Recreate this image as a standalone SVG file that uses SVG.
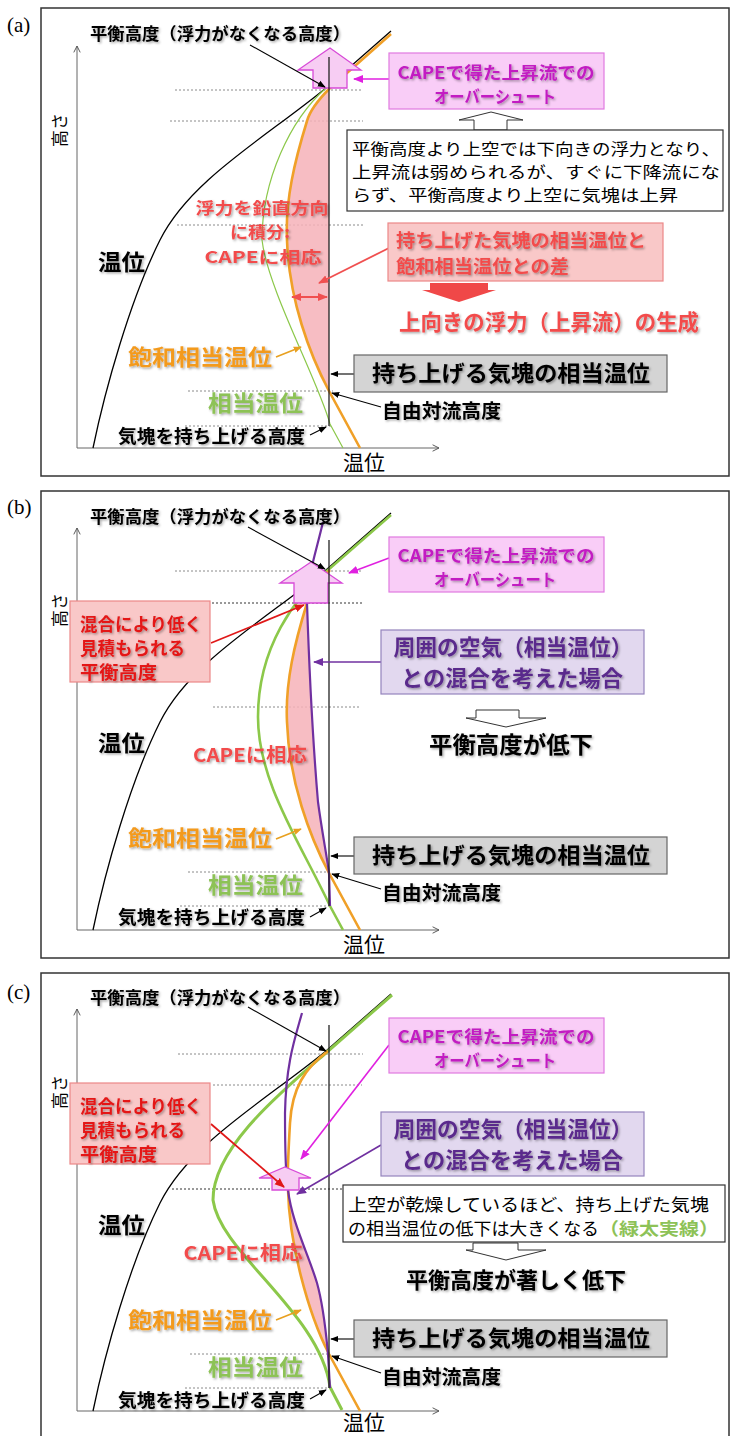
<svg xmlns="http://www.w3.org/2000/svg" width="732" height="1436" viewBox="0 0 732 1436">
<defs>
<style>
text{font-family:"Noto Sans CJK JP","Noto Sans",sans-serif;fill:#000}
.serif{font-family:"Liberation Serif",serif}
.b{font-weight:bold}
.frame{fill:#fff;stroke:#333;stroke-width:1.5}
.axis{fill:none;stroke:#666;stroke-width:1}
.dot{fill:none;stroke:#8a8a8a;stroke-width:1;stroke-dasharray:2 2}
.dotk{fill:none;stroke:#333;stroke-width:1;stroke-dasharray:2 2}
.parcel{fill:none;stroke:#222;stroke-width:1.3}
.theta{fill:none;stroke:#000;stroke-width:1.3}
.sat{fill:none;stroke:#f0a028;stroke-width:2.6}
.eq{fill:none;stroke:#8cc84a}
.mix{fill:none;stroke:#7030a0;stroke-width:2.2}
.cape{fill:#f6b2b8;opacity:.85}
.uparrow{fill:#f7cdf3;stroke:#d84ad8;stroke-width:1.3}
.openarr{fill:#fff;stroke:#333;stroke-width:1}
.lk{fill:none;stroke:#000;stroke-width:1.1;marker-end:url(#ak)}
.lm{fill:none;stroke:#e020e0;stroke-width:1.6;marker-end:url(#am)}
.lr{fill:none;stroke:#f05050;stroke-width:1.8;marker-end:url(#ar)}
.lr2{fill:none;stroke:#e01818;stroke-width:1.8;marker-end:url(#ar2)}
.lp{fill:none;stroke:#7030a0;stroke-width:1.6;marker-end:url(#ap)}
.lo{fill:none;stroke:#e8a020;stroke-width:1.6;marker-end:url(#ao)}
.boxmg{fill:#f9cdf7;stroke:#e07ae0;stroke-width:1.2}
.boxpu{fill:#e2d8ef;stroke:#9484bc;stroke-width:1.2}
.boxrd{fill:#f9c8c8;stroke:#ec8888;stroke-width:1.2}
.boxgy{fill:#d4d4d4;stroke:#666;stroke-width:1.2}
.boxw{fill:#fff;stroke:#333;stroke-width:1.2}
.t-or{fill:#f39a1e}
.t-gr{fill:#8dc257}
.t-rd{fill:#f24c4c}
.t-red{fill:#e41818}
.t-mg{fill:#c21bc2}
.t-pu{fill:#5a2a8c}
.sh{filter:url(#sh)}
</style>
<filter id="sh" x="-10%" y="-30%" width="125%" height="170%">
<feDropShadow dx="1.4" dy="1.4" stdDeviation="0.9" flood-color="#000" flood-opacity="0.35"/>
</filter>
<marker id="ak" viewBox="0 0 10 10" refX="9" refY="5" markerWidth="8" markerHeight="8" markerUnits="userSpaceOnUse" orient="auto-start-reverse"><path d="M0,1 L10,5 L0,9 Z" fill="#000"/></marker>
<marker id="am" viewBox="0 0 10 10" refX="9" refY="5" markerWidth="10" markerHeight="10" markerUnits="userSpaceOnUse" orient="auto"><path d="M0,1 L10,5 L0,9 Z" fill="#e020e0"/></marker>
<marker id="ar" viewBox="0 0 10 10" refX="9" refY="5" markerWidth="10" markerHeight="10" markerUnits="userSpaceOnUse" orient="auto-start-reverse"><path d="M0,1 L10,5 L0,9 Z" fill="#f05050"/></marker>
<marker id="ar2" viewBox="0 0 10 10" refX="9" refY="5" markerWidth="10" markerHeight="10" markerUnits="userSpaceOnUse" orient="auto"><path d="M0,1 L10,5 L0,9 Z" fill="#e01818"/></marker>
<marker id="ap" viewBox="0 0 10 10" refX="9" refY="5" markerWidth="10" markerHeight="10" markerUnits="userSpaceOnUse" orient="auto"><path d="M0,1 L10,5 L0,9 Z" fill="#7030a0"/></marker>
<marker id="ao" viewBox="0 0 10 10" refX="9" refY="5" markerWidth="8" markerHeight="8" markerUnits="userSpaceOnUse" orient="auto"><path d="M0,1 L10,5 L0,9 Z" fill="#e8a020"/></marker>
<marker id="ax" viewBox="0 0 10 10" refX="9" refY="5" markerWidth="8" markerHeight="8" markerUnits="userSpaceOnUse" orient="auto"><path d="M1,1 L9,5 L1,9" fill="none" stroke="#555" stroke-width="1.2"/></marker>
</defs>

<!-- ===================== PANEL (a) ===================== -->
<g id="panel-a">
<rect class="frame" x="41" y="8" width="688" height="468"/>
<text id="a-tag" class="serif" x="7" y="32" font-size="21">(a)</text>
<path class="dot" d="M175,90 H363 M170,121 H363 M177,225 H363 M188,391 H333 M185,426 H333"/>
<path class="cape" d="M330,88 C318,100 310,110 307,121 C295,160 285,200 287,240 C289,300 310,355 329,391 L329,88 Z"/>
<g id="a-axes">
<path class="axis" d="M77,448 V46" marker-end="url(#ax)"/>
<path class="axis" d="M77,448 H439" marker-end="url(#ax)"/>
<text transform="translate(66,130) rotate(-90)" text-anchor="middle" font-size="17">高さ</text>
<text x="343" y="470" font-size="21" textLength="42" lengthAdjust="spacingAndGlyphs">温位</text>
</g>
<g id="a-curves">
<path class="theta" d="M93,448 C105,390 130,300 160,240 S265,138 326,88 L391,31"/>
<path class="eq" stroke-width="1.2" d="M326,88 C290,120 262,180 262,240 C268,290 318,380 330,424 L343,448"/>
<path class="sat" d="M391,34 L330,88 C318,100 310,110 307,121 C295,160 285,200 287,240 C289,300 310,355 329,391 L360,448"/>
</g>
<path id="a-overshoot" class="uparrow" d="M313,88 V70 H298 L330,48 L361,70 H347 V88 Z"/>
<path id="a-parcel" class="parcel" d="M329,57 V426"/>
<g id="a-connectors">
<path class="lk" d="M250,45 L325,87"/>
<path class="lm" d="M389,79 H354"/>
<path class="lr" d="M389,248 L319,283"/>
<path d="M292,297 H327" fill="none" stroke="#f05050" stroke-width="2" marker-start="url(#ar)" marker-end="url(#ar)"/>
<path class="lo" d="M276,357 L301,347"/>
<path class="lk" d="M310,435 L326,427"/>
<path class="lk" d="M381,407 L332,393"/>
<path class="lk" d="M354,374 H331"/>
<path class="openarr" d="M474,130 V120 H459 L491,112 L523,120 H507 V130 Z"/>
<path fill="#f04848" d="M430,283 H488 V290 H496 L459,302 L422,290 H430 Z"/>
</g>
<g id="a-title"><text class="b sh" x="90" y="40" font-size="17" textLength="260" lengthAdjust="spacingAndGlyphs">平衡高度（浮力がなくなる高度）</text></g>
<g id="a-cape-box"><rect class="boxmg" x="389" y="53" width="215" height="56"/>
<text class="b t-mg sh" font-size="17" text-anchor="middle"><tspan x="496" y="79" textLength="197" lengthAdjust="spacingAndGlyphs">CAPEで得た上昇流での</tspan><tspan x="495" y="103" textLength="122" lengthAdjust="spacingAndGlyphs">オーバーシュート</tspan></text></g>
<g id="a-note"><rect class="boxw" x="347" y="130" width="376" height="81"/>
<text font-size="15.6"><tspan x="352" y="155" textLength="368" lengthAdjust="spacingAndGlyphs">平衡高度より上空では下向きの浮力となり、</tspan><tspan x="352" y="178" textLength="368" lengthAdjust="spacingAndGlyphs">上昇流は弱められるが、すぐに下降流にな</tspan><tspan x="352" y="201" textLength="326" lengthAdjust="spacingAndGlyphs">らず、平衡高度より上空に気塊は上昇</tspan></text></g>
<g id="a-integral"><text class="b t-rd sh" font-size="16.4" text-anchor="middle"><tspan x="262" y="214" textLength="133" lengthAdjust="spacingAndGlyphs">浮力を鉛直方向</tspan><tspan x="260" y="238" textLength="60" lengthAdjust="spacingAndGlyphs">に積分:</tspan><tspan x="263" y="263" textLength="117" lengthAdjust="spacingAndGlyphs">CAPEに相応</tspan></text></g>
<g id="a-diff-box"><rect class="boxrd" x="388" y="223" width="275" height="58"/>
<text class="b t-rd sh" font-size="18"><tspan x="396" y="247" textLength="250" lengthAdjust="spacingAndGlyphs">持ち上げた気塊の相当温位と</tspan><tspan x="396" y="273" textLength="173" lengthAdjust="spacingAndGlyphs">飽和相当温位との差</tspan></text></g>
<g id="a-buoyancy"><text class="b t-rd sh" x="549" y="330" font-size="22" text-anchor="middle" textLength="300" lengthAdjust="spacingAndGlyphs">上向きの浮力（上昇流）の生成</text></g>
<g id="a-theta-label"><text class="b sh" x="98" y="270" font-size="22" textLength="47" lengthAdjust="spacingAndGlyphs">温位</text></g>
<g id="a-sat-label"><text class="b t-or sh" x="128" y="365" font-size="22" textLength="144" lengthAdjust="spacingAndGlyphs">飽和相当温位</text></g>
<g id="a-eq-label"><text class="b t-gr sh" x="208" y="411" font-size="22" textLength="95" lengthAdjust="spacingAndGlyphs">相当温位</text></g>
<g id="a-lift-label"><text class="b sh" x="118" y="443" font-size="18" textLength="187" lengthAdjust="spacingAndGlyphs">気塊を持ち上げる高度</text></g>
<g id="a-parcel-box"><rect class="boxgy" x="354" y="355" width="313" height="37"/>
<text class="b sh" x="511" y="381" font-size="22" text-anchor="middle" textLength="278" lengthAdjust="spacingAndGlyphs">持ち上げる気塊の相当温位</text></g>
<g id="a-lfc-label"><text class="b sh" x="382" y="418" font-size="19" textLength="119" lengthAdjust="spacingAndGlyphs">自由対流高度</text></g>
</g>

<!-- ===================== PANEL (b) ===================== -->
<g id="panel-b" transform="translate(0,482)">
<rect class="frame" x="41" y="9" width="688" height="467"/>
<text id="b-tag" class="serif" x="7" y="32" font-size="21">(b)</text>
<path class="dot" d="M175,89 H363 M213,225 H361 M188,390 H330 M180,424 H330"/>
<path class="dotk" d="M212,121 H363"/>
<path class="cape" d="M307,121 C295,160 285,200 287,240 C289,300 310,355 329,391 C327,375 322,350 318,320 C312,250 309,180 307,121 Z"/>
<g id="b-axes">
<path class="axis" d="M77,448 V46" marker-end="url(#ax)"/>
<path class="axis" d="M77,448 H439" marker-end="url(#ax)"/>
<text transform="translate(66,128) rotate(-90)" text-anchor="middle" font-size="17">高さ</text>
<text x="343" y="470" font-size="21" textLength="42" lengthAdjust="spacingAndGlyphs">温位</text>
</g>
<g id="b-curves">
<path class="theta" d="M93,448 C105,390 130,300 160,240 S265,138 326,88 L391,31"/>
<path class="eq" stroke-width="2.6" d="M391,33 L328,88 C295,115 258,165 258,235 C258,300 300,360 330,424 L343,448"/>
<path class="sat" d="M330,88 C318,100 310,110 307,121 C295,160 285,200 287,240 C289,300 310,355 329,391 L360,448"/>
<path class="mix" d="M323,40 C316,70 306,100 307,121 C309,180 312,250 318,320 C322,350 327,375 329,391 L330,424"/>
</g>
<path id="b-overshoot" class="uparrow" d="M294,121 V101 H280 L311,80 L342,101 H328 V121 Z"/>
<path id="b-parcel" class="parcel" d="M329,58 V424"/>
<g id="b-connectors">
<path class="lk" d="M248,45 L325,87"/>
<path class="lm" d="M389,76 L349,91"/>
<path class="lr2" d="M211,161 L304,123"/>
<path class="lp" d="M381,180 H314"/>
<path class="lo" d="M276,357 L301,347"/>
<path class="lk" d="M310,435 L326,426"/>
<path class="lk" d="M381,407 L332,392"/>
<path class="lk" d="M354,374 H331"/>
<path class="openarr" d="M476,228 H519 V236 H546 L506,245 L466,236 H476 Z"/>
</g>
<g id="b-title"><text class="b sh" x="90" y="41" font-size="17" textLength="260" lengthAdjust="spacingAndGlyphs">平衡高度（浮力がなくなる高度）</text></g>
<g id="b-cape-box"><rect class="boxmg" x="389" y="55" width="215" height="55"/>
<text class="b t-mg sh" font-size="17" text-anchor="middle"><tspan x="496" y="80" textLength="197" lengthAdjust="spacingAndGlyphs">CAPEで得た上昇流での</tspan><tspan x="495" y="104" textLength="122" lengthAdjust="spacingAndGlyphs">オーバーシュート</tspan></text></g>
<g id="b-mix-box"><rect class="boxpu" x="381" y="148" width="263" height="64"/>
<text class="b t-pu sh" font-size="22" text-anchor="middle"><tspan x="513" y="173" textLength="239" lengthAdjust="spacingAndGlyphs">周囲の空気（相当温位）</tspan><tspan x="512" y="204" textLength="222" lengthAdjust="spacingAndGlyphs">との混合を考えた場合</tspan></text></g>
<g id="b-low-box"><rect class="boxrd" x="70" y="119" width="140" height="81"/>
<text class="b t-red sh" font-size="18"><tspan x="80" y="149" textLength="122" lengthAdjust="spacingAndGlyphs">混合により低く</tspan><tspan x="80" y="173" textLength="105" lengthAdjust="spacingAndGlyphs">見積もられる</tspan><tspan x="80" y="197" textLength="77" lengthAdjust="spacingAndGlyphs">平衡高度</tspan></text></g>
<g id="b-result"><text class="b sh" x="511" y="271" font-size="23" text-anchor="middle" textLength="164" lengthAdjust="spacingAndGlyphs">平衡高度が低下</text></g>
<g id="b-cape-label"><text class="b t-rd sh" x="250" y="280" font-size="19" text-anchor="middle" textLength="114" lengthAdjust="spacingAndGlyphs">CAPEに相応</text></g>
<g id="b-theta-label"><text class="b sh" x="98" y="269" font-size="22" textLength="47" lengthAdjust="spacingAndGlyphs">温位</text></g>
<g id="b-sat-label"><text class="b t-or sh" x="128" y="364" font-size="22" textLength="144" lengthAdjust="spacingAndGlyphs">飽和相当温位</text></g>
<g id="b-eq-label"><text class="b t-gr sh" x="208" y="411" font-size="22" textLength="95" lengthAdjust="spacingAndGlyphs">相当温位</text></g>
<g id="b-lift-label"><text class="b sh" x="118" y="442" font-size="18" textLength="187" lengthAdjust="spacingAndGlyphs">気塊を持ち上げる高度</text></g>
<g id="b-parcel-box"><rect class="boxgy" x="354" y="355" width="313" height="37"/>
<text class="b sh" x="511" y="381" font-size="22" text-anchor="middle" textLength="278" lengthAdjust="spacingAndGlyphs">持ち上げる気塊の相当温位</text></g>
<g id="b-lfc-label"><text class="b sh" x="382" y="418" font-size="19" textLength="119" lengthAdjust="spacingAndGlyphs">自由対流高度</text></g>
</g>

<!-- ===================== PANEL (c) ===================== -->
<g id="panel-c" transform="translate(0,963)">
<rect class="frame" x="41" y="10" width="688" height="470"/>
<text id="c-tag" class="serif" x="7" y="36" font-size="21">(c)</text>
<path class="dot" d="M178,91 H363 M213,122 H362 M190,391 H330 M185,425 H330"/>
<path class="dotk" d="M172,226 H343"/>
<path class="cape" d="M288,226 C289,280 308,350 329,391 L328,391 C326,370 324,345 317,320 C308,290 292,260 288,227 Z"/>
<g id="c-axes">
<path class="axis" d="M77,448 V46" marker-end="url(#ax)"/>
<path class="axis" d="M77,448 H439" marker-end="url(#ax)"/>
<text transform="translate(66,129) rotate(-90)" text-anchor="middle" font-size="17">高さ</text>
<text x="343" y="467" font-size="21" textLength="42" lengthAdjust="spacingAndGlyphs">温位</text>
</g>
<g id="c-curves">
<path class="theta" d="M93,448 C105,390 130,300 160,240 S265,138 326,88 L391,31"/>
<path class="eq" stroke-width="3" d="M392,32 L327,89 C280,130 213,185 213,237 C220,290 320,350 330,424 L342,447"/>
<path class="sat" d="M328,88 C305,105 292,125 290,160 C288,195 287,215 288,226 C289,280 308,350 329,391 L360,448"/>
<path class="mix" d="M302,50 C295,75 286,100 285,150 C285,190 286,215 288,227 C292,260 308,290 317,320 C324,345 326,370 328,391 L330,425"/>
</g>
<path id="c-overshoot" class="uparrow" d="M272,227 V215 H259 L285,204 L311,215 H299 V227 Z"/>
<path id="c-parcel" class="parcel" d="M329,62 V425"/>
<g id="c-connectors">
<path class="lk" d="M248,44 L326,88"/>
<path class="lm" d="M389,82 L301,196"/>
<path class="lr2" d="M211,161 L284,224"/>
<path class="lp" d="M381,182 L297,231"/>
<path class="lo" d="M276,357 L301,347"/>
<path class="lk" d="M310,436 L326,427"/>
<path class="lk" d="M381,410 L332,393"/>
<path class="lk" d="M354,376 H331"/>
<path class="openarr" d="M473,280 H518 V287 H546 L506,297 L466,287 H473 Z"/>
</g>
<g id="c-title"><text class="b sh" x="90" y="41" font-size="17" textLength="260" lengthAdjust="spacingAndGlyphs">平衡高度（浮力がなくなる高度）</text></g>
<g id="c-cape-box"><rect class="boxmg" x="389" y="55" width="215" height="55"/>
<text class="b t-mg sh" font-size="17" text-anchor="middle"><tspan x="496" y="80" textLength="197" lengthAdjust="spacingAndGlyphs">CAPEで得た上昇流での</tspan><tspan x="495" y="104" textLength="122" lengthAdjust="spacingAndGlyphs">オーバーシュート</tspan></text></g>
<g id="c-mix-box"><rect class="boxpu" x="381" y="149" width="263" height="64"/>
<text class="b t-pu sh" font-size="22" text-anchor="middle"><tspan x="513" y="174" textLength="239" lengthAdjust="spacingAndGlyphs">周囲の空気（相当温位）</tspan><tspan x="512" y="205" textLength="222" lengthAdjust="spacingAndGlyphs">との混合を考えた場合</tspan></text></g>
<g id="c-low-box"><rect class="boxrd" x="70" y="120" width="140" height="81"/>
<text class="b t-red sh" font-size="18"><tspan x="80" y="150" textLength="122" lengthAdjust="spacingAndGlyphs">混合により低く</tspan><tspan x="80" y="174" textLength="105" lengthAdjust="spacingAndGlyphs">見積もられる</tspan><tspan x="80" y="198" textLength="77" lengthAdjust="spacingAndGlyphs">平衡高度</tspan></text></g>
<g id="c-note"><rect class="boxw" x="343" y="222" width="382" height="57"/>
<text font-size="17.5"><tspan x="348" y="248" textLength="361" lengthAdjust="spacingAndGlyphs">上空が乾燥しているほど、持ち上げた気塊</tspan><tspan x="348" y="272" textLength="251" lengthAdjust="spacingAndGlyphs">の相当温位の低下は大きくなる</tspan><tspan class="b t-gr" x="599" y="272" textLength="120" lengthAdjust="spacingAndGlyphs">（緑太実線）</tspan></text></g>
<g id="c-result"><text class="b sh" x="516" y="325" font-size="22" text-anchor="middle" textLength="220" lengthAdjust="spacingAndGlyphs">平衡高度が著しく低下</text></g>
<g id="c-cape-label"><text class="b t-rd sh" x="243" y="297" font-size="19" text-anchor="middle" textLength="119" lengthAdjust="spacingAndGlyphs">CAPEに相応</text></g>
<g id="c-theta-label"><text class="b sh" x="98" y="270" font-size="22" textLength="47" lengthAdjust="spacingAndGlyphs">温位</text></g>
<g id="c-sat-label"><text class="b t-or sh" x="128" y="365" font-size="22" textLength="144" lengthAdjust="spacingAndGlyphs">飽和相当温位</text></g>
<g id="c-eq-label"><text class="b t-gr sh" x="208" y="412" font-size="22" textLength="95" lengthAdjust="spacingAndGlyphs">相当温位</text></g>
<g id="c-lift-label"><text class="b sh" x="118" y="444" font-size="18" textLength="187" lengthAdjust="spacingAndGlyphs">気塊を持ち上げる高度</text></g>
<g id="c-parcel-box"><rect class="boxgy" x="354" y="357" width="313" height="37"/>
<text class="b sh" x="511" y="383" font-size="22" text-anchor="middle" textLength="278" lengthAdjust="spacingAndGlyphs">持ち上げる気塊の相当温位</text></g>
<g id="c-lfc-label"><text class="b sh" x="382" y="421" font-size="19" textLength="119" lengthAdjust="spacingAndGlyphs">自由対流高度</text></g>
</g>
</svg>
